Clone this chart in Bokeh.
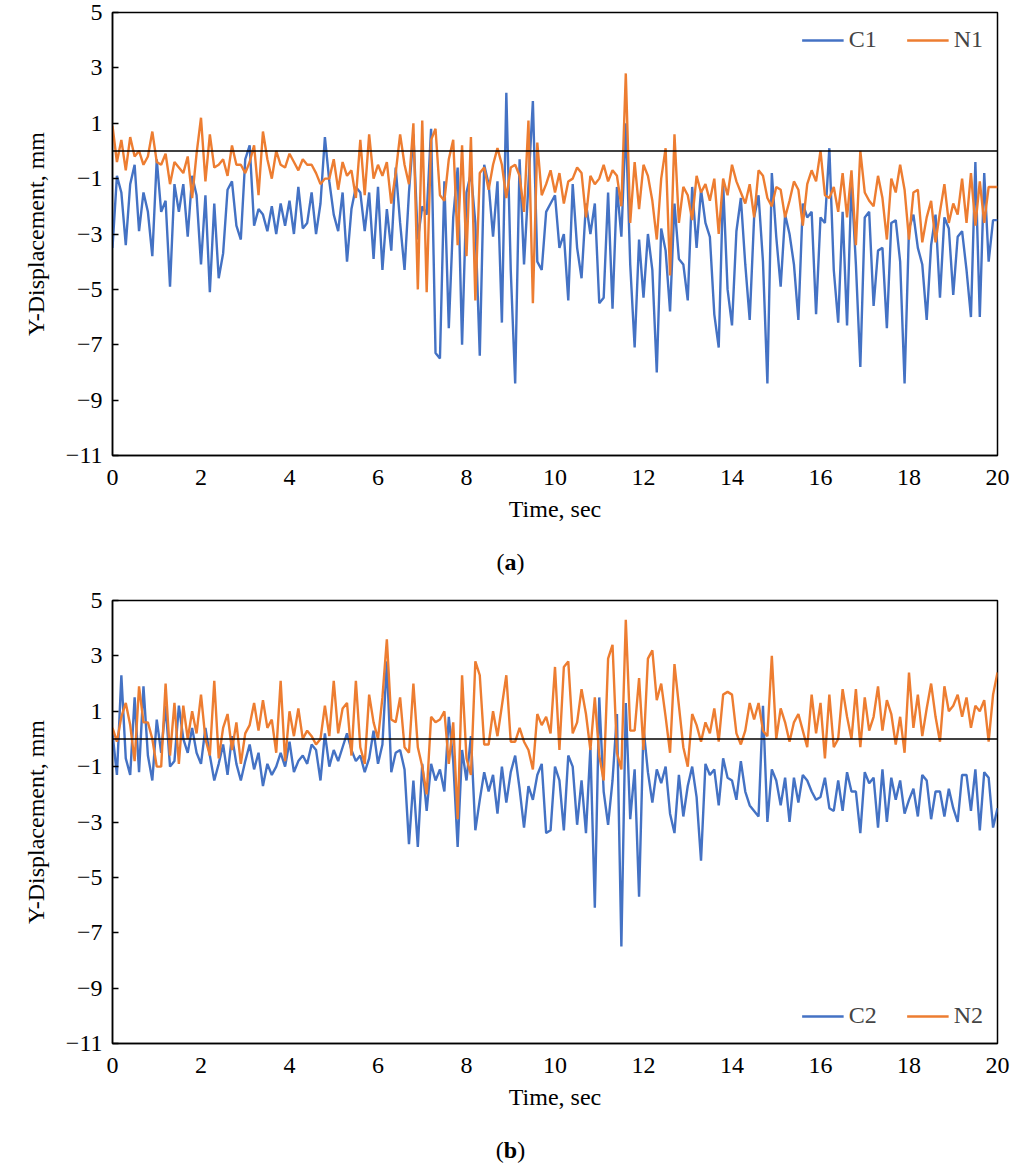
import numpy as np
from bokeh.plotting import figure
from bokeh.layouts import column
from bokeh.models import Span, Legend, Div, FixedTicker
from bokeh.embed import file_html
from bokeh.resources import INLINE

time = [round(i * 0.1, 1) for i in range(201)]

c1 = [-3.5,-0.9,-1.5,-3.4,-1.2,-0.5,-2.9,-1.5,-2.2,-3.8,
      -0.3,-2.2,-1.8,-4.9,-1.2,-2.2,-1.2,-3.1,-0.9,-1.6,
      -4.1,-1.6,-5.1,-1.9,-4.6,-3.7,-1.4,-1.1,-2.7,-3.2,
      -0.3,0.2,-2.7,-2.1,-2.3,-2.9,-2.0,-3.0,-1.9,-2.7,
      -1.8,-3.0,-1.3,-2.8,-2.6,-1.5,-3.0,-1.9,0.5,-1.1,
      -2.3,-2.9,-1.5,-4.0,-2.1,-1.3,-1.5,-2.9,-1.5,-3.9,
      -1.3,-4.3,-2.1,-3.6,-0.6,-2.6,-4.3,-1.5,0.6,-3.2,
      -2.0,-2.3,0.8,-7.3,-7.5,-1.1,-6.4,-2.4,-0.6,-7.0,
      -1.5,-0.8,-2.6,-7.4,-0.5,-1.2,-3.1,-1.1,-6.2,2.1,
      -4.3,-8.4,-0.3,-4.1,-1.2,1.8,-4.0,-4.3,-2.2,-1.9,
      -1.6,-3.5,-3.0,-5.4,-1.2,-3.5,-4.6,-1.9,-3.0,-1.9,
      -5.5,-5.3,-1.5,-5.7,-1.3,-3.1,1.0,-4.1,-7.1,-3.2,
      -5.3,-3.0,-4.3,-8.0,-2.8,-3.6,-5.8,-1.9,-3.9,-4.1,
      -5.4,-1.3,-3.5,-1.4,-2.6,-3.1,-5.9,-7.1,-1.2,-5.0,
      -6.3,-2.9,-1.7,-4.1,-6.1,-2.4,-1.6,-4.0,-8.4,-0.8,
      -3.1,-4.9,-2.3,-3.0,-4.1,-6.1,-1.9,-2.4,-2.2,-5.9,
      -2.4,-2.6,0.1,-4.3,-6.2,-2.2,-6.3,-1.1,-4.1,-7.8,
      -2.4,-2.2,-5.6,-3.6,-3.5,-6.4,-2.6,-2.5,-4.0,-8.4,
      -2.8,-2.3,-3.5,-4.1,-6.1,-3.4,-2.3,-5.3,-2.4,-2.8,
      -5.2,-3.1,-2.9,-4.3,-6.0,-0.4,-6.0,-0.8,-4.0,-2.5,
      -2.5]

n1 = [0.9,-0.4,0.4,-0.7,0.5,-0.2,0.0,-0.5,-0.2,0.7,
      -0.4,-0.5,-0.1,-1.2,-0.4,-0.6,-0.8,-0.2,-1.7,-0.1,
      1.2,-1.1,0.6,-0.6,-0.5,-0.3,-0.9,0.2,-0.5,-0.5,
      -0.8,-0.4,0.2,-1.6,0.7,-0.3,-1.0,0.0,-0.5,-0.6,
      -0.1,-0.4,-0.7,-0.3,-0.5,-0.5,-0.8,-1.2,-1.0,-1.0,
      -0.3,-1.4,-0.4,-0.9,-0.7,-1.7,0.4,-1.6,0.6,-1.0,
      -0.5,-0.9,-0.4,-1.9,-0.8,0.6,-0.5,-1.2,1.0,-5.0,
      1.1,-5.1,0.4,0.8,-1.6,-1.8,-0.3,0.4,-3.4,0.2,
      -3.8,0.5,-5.4,-0.8,-0.6,-1.4,-0.5,0.1,-0.5,-1.7,
      -0.6,-0.5,-0.9,-2.2,1.1,-5.5,0.3,-1.6,-1.2,-0.7,
      -1.5,-0.8,-1.9,-1.1,-1.0,-0.6,-0.8,-2.4,-0.9,-1.2,
      -1.0,-0.5,-1.1,-0.7,-0.9,-2.0,2.8,-2.6,-0.4,-2.1,
      -0.5,-0.9,-1.8,-3.2,-1.0,0.1,-4.5,0.6,-2.6,-1.3,
      -1.6,-2.5,-0.9,-1.5,-1.2,-1.8,-1.0,-3.0,-1.0,-1.6,
      -0.5,-1.1,-1.5,-1.9,-1.2,-2.4,-0.7,-0.9,-1.7,-2.0,
      -1.3,-1.4,-2.4,-1.8,-1.1,-1.4,-2.7,-1.2,-0.7,-1.1,
      0.0,-1.6,-1.7,-1.3,-2.2,-0.8,-2.4,-0.7,-3.4,0.0,
      -1.5,-1.8,-2.0,-0.9,-1.7,-3.2,-1.0,-1.5,-0.5,-1.4,
      -3.2,-1.5,-1.4,-3.3,-2.4,-1.8,-3.3,-2.2,-1.2,-2.6,
      -1.9,-2.3,-1.0,-2.6,-0.8,-2.7,-1.1,-2.6,-1.3,-1.3,
      -1.3]

c2 = [0.2,-1.3,2.3,-0.7,-1.3,1.5,-1.2,1.9,-0.6,-1.5,
      0.7,-0.5,1.2,-1.0,-0.8,1.2,0.0,-0.5,0.4,-0.5,
      -0.9,0.4,-0.6,-1.5,-0.9,-0.2,-1.3,0.1,-0.9,-1.5,
      -0.8,-0.2,-1.1,-0.5,-1.7,-0.9,-1.3,-1.0,-0.5,-1.0,
      -0.1,-1.2,-0.8,-0.6,-0.9,-0.2,-0.4,-1.5,0.2,-1.0,
      -0.4,-0.8,-0.3,0.2,-0.4,-0.8,-0.6,-1.2,-0.7,0.3,
      -0.9,-0.2,2.8,-1.2,-0.5,-0.4,-1.1,-3.8,-1.5,-3.9,
      -0.9,-2.6,-0.9,-1.5,-1.1,-1.9,0.8,-0.8,-3.9,-0.4,
      -1.5,0.1,-3.3,-2.2,-1.2,-1.9,-1.3,-2.7,-1.0,-2.3,
      -1.2,-0.6,-1.8,-3.2,-1.7,-2.2,-1.3,-0.9,-3.4,-3.3,
      -1.0,-1.5,-3.3,-0.6,-1.0,-3.1,-1.5,-3.4,-0.3,-6.1,
      1.5,-1.9,-3.1,-1.5,0.9,-7.5,1.3,-2.9,-1.1,-5.7,
      0.4,-1.2,-2.3,-1.1,-1.6,-1.0,-2.7,-3.4,-1.3,-2.8,
      -1.7,-1.0,-2.1,-4.4,-0.9,-1.3,-1.1,-2.4,-0.7,-1.4,
      -1.5,-2.2,-0.8,-1.9,-2.4,-2.6,-2.8,1.2,-3.0,-1.1,
      -1.5,-2.4,-1.4,-3.0,-1.4,-2.3,-1.3,-1.5,-1.9,-2.2,
      -2.1,-1.4,-2.5,-2.6,-1.5,-2.6,-1.2,-1.9,-1.9,-3.4,
      -1.2,-1.6,-1.4,-3.2,-1.1,-3.0,-1.4,-2.2,-1.5,-2.7,
      -2.2,-1.8,-2.8,-1.3,-1.5,-2.9,-1.9,-1.9,-2.8,-1.8,
      -2.5,-3.0,-1.3,-1.3,-2.6,-1.1,-3.3,-1.2,-1.4,-3.2,
      -2.5]

n2 = [0.4,-0.1,0.8,1.3,0.5,-0.8,1.9,0.6,0.6,0.0,
      -1.0,-1.0,2.0,-0.6,1.3,-0.9,1.2,0.0,1.0,0.2,
      1.6,0.0,-0.6,2.1,-0.7,0.4,0.9,-0.4,0.6,-0.9,
      0.2,0.5,1.3,0.3,1.4,0.4,0.7,-0.5,2.1,-0.8,
      1.0,0.1,1.1,0.0,0.3,0.1,-0.2,0.0,1.2,0.1,
      2.1,0.2,1.1,1.3,-0.6,2.1,-0.3,-0.9,1.6,0.6,
      0.0,1.5,3.6,0.7,0.6,1.5,-0.3,-0.5,2.0,-0.3,
      -1.0,-2.0,0.8,0.6,0.7,1.0,-0.9,0.6,-2.9,2.3,
      -0.7,-1.3,2.8,2.3,-0.2,-0.2,1.0,0.1,1.2,2.3,
      -0.1,-0.1,0.4,-0.1,-0.4,-1.1,0.9,0.5,0.8,0.2,
      2.6,-0.4,2.6,2.8,0.2,0.6,1.8,0.9,-0.4,1.5,
      -0.6,-1.5,2.9,3.4,-0.5,-1.1,4.3,0.3,0.3,2.2,
      -0.4,2.9,3.2,1.4,2.0,0.8,-0.5,2.7,1.2,-0.3,
      -1.0,0.9,0.5,-0.1,0.6,0.2,1.1,-0.1,1.6,1.7,
      1.6,0.2,-0.2,0.3,1.3,0.7,1.3,0.3,0.1,3.0,
      0.0,1.1,0.6,-0.1,0.6,0.9,0.3,-0.3,1.6,0.2,
      1.3,-0.7,1.6,-0.3,0.0,1.8,0.8,0.0,1.8,-0.3,
      1.5,0.3,0.8,1.9,0.3,1.4,0.9,-0.2,0.8,-0.5,
      2.4,0.4,1.6,0.1,1.1,2.0,0.8,-0.1,1.9,1.0,
      1.2,1.6,0.8,1.5,0.4,1.2,1.0,1.4,-0.1,1.6,
      2.4]

x_ticks = list(range(0, 21, 2))
y_ticks = [5, 3, 1, -1, -3, -5, -7, -9, -11]

BLUE = "#4472C4"
ORANGE = "#ED7D31"
FONT = "Liberation Serif"


def make_panel(ya, yb, la, lb, legend_top, top_border):
    p = figure(frame_width=885, frame_height=443, x_range=(0, 20), y_range=(-11, 5),
               output_backend="svg", toolbar_location=None,
               min_border_left=112, min_border_right=14, min_border_top=top_border,
               min_border_bottom=85)
    p.grid.visible = False
    p.outline_line_color = "black"
    p.outline_line_width = 1.5
    r1 = p.line(time, ya, line_color=BLUE, line_width=2.4)
    r2 = p.line(time, yb, line_color=ORANGE, line_width=2.4)
    p.add_layout(Span(location=0, dimension="width", line_color="black", line_width=1.5))
    p.xaxis.ticker = FixedTicker(ticks=x_ticks)
    p.yaxis.ticker = FixedTicker(ticks=y_ticks)
    p.yaxis.major_label_overrides = {v: ("\u2212" + str(-v) if v < 0 else str(v)) for v in y_ticks}
    for ax in (p.xaxis, p.yaxis):
        ax.axis_line_color = "black"
        ax.axis_line_width = 1.5
        ax.major_tick_line_color = "black"
        ax.major_tick_line_width = 1.5
        ax.minor_tick_line_color = None
        ax.major_label_text_font = FONT
        ax.major_label_text_font_size = "24px"
        ax.major_label_text_color = "black"
        ax.axis_label_text_font = FONT
        ax.axis_label_text_font_size = "24px"
        ax.axis_label_text_font_style = "normal"
        ax.axis_label_text_color = "black"
    p.yaxis.major_tick_in = 6
    p.yaxis.major_tick_out = 0
    p.xaxis.major_tick_in = 0
    p.xaxis.major_tick_out = 0
    p.xaxis.major_label_standoff = 14
    p.yaxis.major_label_standoff = 10
    p.xaxis.axis_label = "Time, sec"
    p.yaxis.axis_label = "Y-Displacement, mm"
    p.xaxis.axis_label_standoff = 8
    p.yaxis.axis_label_standoff = 14
    leg = Legend(items=[(la, [r1]), (lb, [r2])], orientation="horizontal",
                 location="top_right" if legend_top else "bottom_right",
                 border_line_color=None, background_fill_alpha=0,
                 label_text_font=FONT, label_text_font_size="24px",
                 glyph_width=42, spacing=30, margin=14)
    p.add_layout(leg)
    return p


p1 = make_panel(c1, n1, "C1", "N1", True, 12)
p2 = make_panel(c2, n2, "C2", "N2", False, 14)

cap_style = {"font-family": FONT, "font-size": "24px", "color": "black",
             "text-align": "center", "width": "100%"}
d1 = Div(text="(<b>a</b>)", width=1011, height=36, styles=cap_style)
d2 = Div(text="(<b>b</b>)", width=1011, height=40, styles=cap_style)

layout = column(p1, d1, p2, d2, spacing=0)
open("out.html", "w").write(file_html(layout, INLINE))
